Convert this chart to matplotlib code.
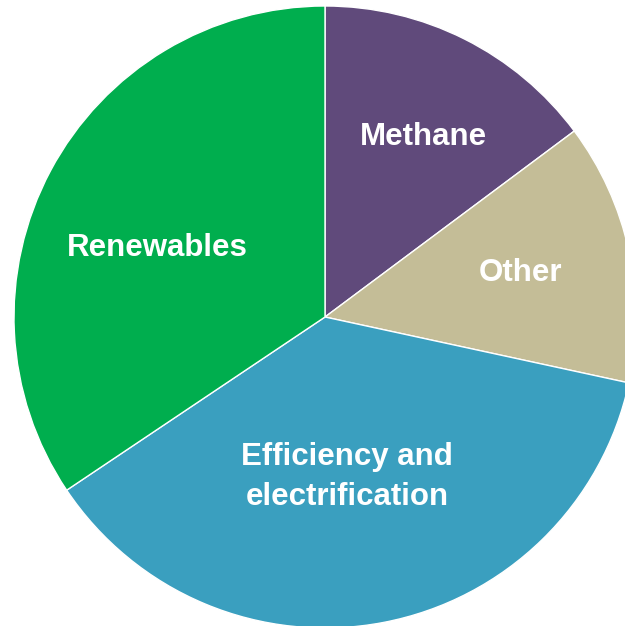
import matplotlib.pyplot as plt

# Share of emissions reductions by measure
labels = ['Methane', 'Other', 'Efficiency and\nelectrification', 'Renewables']
shares = [14.8, 13.6, 37.2, 34.4]
colors = ['#604A7B', '#C4BD97', '#3A9FBF', '#00AE4E']

# label anchor positions (data units, pie centre at 0,0)
label_xy = [(98, 180), (195, 44), (22, -160), (-168, 69)]

fig = plt.figure(figsize=(6.25, 6.26), dpi=100)
ax = fig.add_axes([0, 0, 1, 1])

ax.pie(shares, colors=colors, startangle=90, counterclock=False,
       radius=311, center=(0, 0), frame=True,
       wedgeprops=dict(edgecolor='white', linewidth=1.0))

for txt, (x, y) in zip(labels, label_xy):
    ax.text(x, y, txt, ha='center', va='center', color='white',
            fontsize=22.5, fontweight='bold', family='Liberation Sans',
            linespacing=1.4)

ax.set_xlim(-325, 300)
ax.set_ylim(-309, 317)
ax.set_aspect('auto')
ax.axis('off')

fig.savefig('out.png', dpi=100)
